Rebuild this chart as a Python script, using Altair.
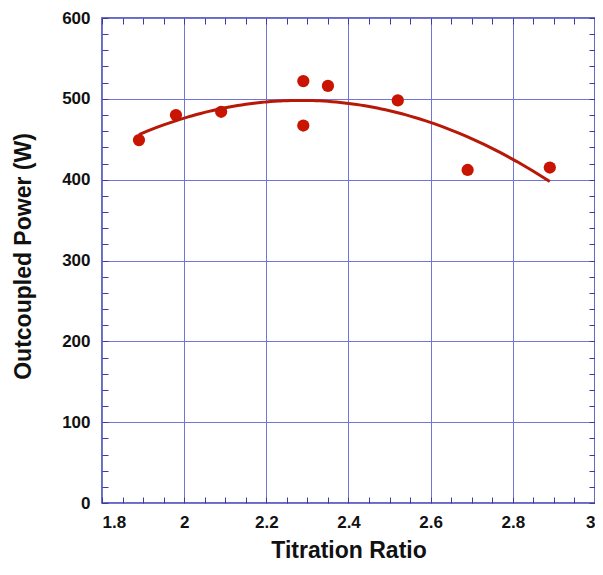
import altair as alt
import pandas as pd

# data
ratio = [1.89, 1.98, 2.09, 2.29, 2.29, 2.35, 2.52, 2.69, 2.89]
power = [449, 480, 484, 522, 467, 516, 498, 412, 415]
x_ticks = [1.8, 2.0, 2.2, 2.4, 2.6, 2.8, 3.0]
y_ticks = [0, 100, 200, 300, 400, 500, 600]
x_minor = [1.8, 1.85, 1.9, 1.95, 2.0, 2.05, 2.1, 2.15, 2.2, 2.25, 2.3, 2.35, 2.4,
           2.45, 2.5, 2.55, 2.6, 2.65, 2.7, 2.75, 2.8, 2.85, 2.9, 2.95, 3.0]
y_minor = [0, 20, 40, 60, 80, 100, 120, 140, 160, 180, 200, 220, 240, 260, 280, 300,
           320, 340, 360, 380, 400, 420, 440, 460, 480, 500, 520, 540, 560, 580, 600]

df = pd.DataFrame({"ratio": ratio, "power": power})

GRID = "#7474d8"
FRAME = "#3a3aa8"
RED = "#c81400"
LINE = "#b81808"
FONT = "Liberation Sans"

W, H = 493, 485

xs = alt.Scale(domain=[1.8, 3.0], nice=False, zero=False)
ys = alt.Scale(domain=[0, 600], nice=False, zero=True)


def minor_axis(vals, orient):
    return alt.Axis(values=vals, orient=orient, labels=False, domain=False, grid=False,
                    ticks=True, tickSize=6, tickColor=FRAME, tickWidth=1, offset=-6,
                    title=None)


base = alt.Chart(df)

points = base.mark_circle(size=150, color=RED, opacity=1).encode(
    x=alt.X("ratio:Q", scale=xs, axis=alt.Axis(
        values=x_ticks, format="~g", grid=True, gridColor=GRID, gridWidth=1,
        ticks=False, domain=False, labelFont=FONT, labelFontSize=17,
        labelFontWeight="bold", labelColor="#111111", labelPadding=11,
        title="Titration Ratio", titleFont=FONT, titleFontSize=23,
        titleFontWeight="bold", titleColor="#111111",
        titleX=W / 2, titleY=54, titleBaseline="alphabetic", titleAlign="center")),
    y=alt.Y("power:Q", scale=ys, axis=alt.Axis(
        values=y_ticks, format="d", grid=True, gridColor=GRID, gridWidth=1,
        ticks=False, domain=False, labelFont=FONT, labelFontSize=17,
        labelFontWeight="bold", labelColor="#111111", labelPadding=12,
        title="Outcoupled Power (W)", titleFont=FONT, titleFontSize=23,
        titleFontWeight="bold", titleColor="#111111",
        titleX=-72, titleY=238, titleBaseline="alphabetic", titleAlign="center",
        titleAngle=270)),
)

fit = base.transform_regression(
    "ratio", "power", method="poly", order=2, extent=[1.89, 2.89]
).mark_line(color=LINE, strokeWidth=3).encode(
    x=alt.X("ratio:Q", scale=xs, axis=minor_axis(x_minor, "bottom")),
    y=alt.Y("power:Q", scale=ys, axis=minor_axis(y_minor, "left")),
)

ghost = base.mark_circle(opacity=0).encode(
    x=alt.X("ratio:Q", scale=xs, axis=minor_axis(x_minor, "top")),
    y=alt.Y("power:Q", scale=ys, axis=minor_axis(y_minor, "right")),
)

chart = alt.layer(points, fit, ghost).resolve_axis(
    x="independent", y="independent"
).properties(
    width=W, height=H,
    autosize=alt.AutoSizeParams(type="none"),
    padding={"left": 94, "top": 10, "right": 0, "bottom": 58},
    background="white",
).configure_view(stroke=FRAME, strokeWidth=1.5)

chart.save("out.html", embed_options={"renderer": "svg", "actions": False})
